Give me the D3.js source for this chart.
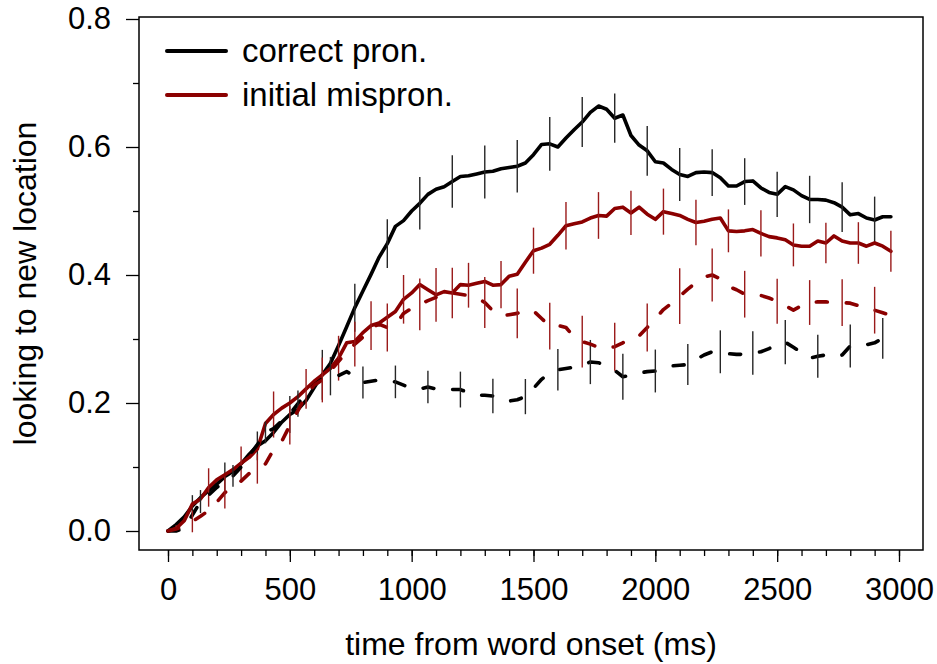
<!DOCTYPE html>
<meta charset="utf-8">
<style>
body { margin: 0; background: #fff; }
svg text { font-family: "Liberation Sans", Arial, sans-serif; fill: #000; }
.axis path.domain { display: none; }
.axis line { stroke: #000; stroke-width: 1.3px; }
</style>
<body>
<div class="g-chart"></div>
<script src="https://cdnjs.cloudflare.com/ajax/libs/d3/7.8.5/d3.min.js"></script>
<script>

// sample times (ms), one every 33.3 ms
var times = [0,33.3,66.7,100,133.3,166.7,200,233.3,266.7,300,333.3,366.7,400,433.3,466.7,500,
  533.3,566.7,600,633.3,666.7,700,733.3,766.7,800,833.3,866.7,900,933.3,966.7,1000,1033.3,1066.7,
  1100,1133.3,1166.7,1200,1233.3,1266.7,1300,1333.3,1366.7,1400,1433.3,1466.7,1500,1533.3,1566.7,
  1600,1633.3,1666.7,1700,1733.3,1766.7,1800,1833.3,1866.7,1900,1933.3,1966.7,2000,2033.3,2066.7,
  2100,2133.3,2166.7,2200,2233.3,2266.7,2300,2333.3,2366.7,2400,2433.3,2466.7,2500,2533.3,2566.7,
  2600,2633.3,2666.7,2700,2733.3,2766.7,2800,2833.3,2866.7,2900,2933.3,2966.7];

// correct pron., new object (solid black)
var correctSolid = [0,0.010,0.022,0.039,0.052,0.063,0.073,0.085,0.093,0.105,0.120,0.133,0.141,0.154,0.170,
  0.182,0.190,0.204,0.224,0.244,0.262,0.290,0.319,0.349,0.375,0.401,0.428,0.449,0.476,0.485,0.500,
  0.512,0.526,0.534,0.538,0.546,0.554,0.555,0.558,0.561,0.562,0.566,0.568,0.570,0.575,0.588,0.604,
  0.605,0.600,0.614,0.627,0.639,0.654,0.664,0.659,0.645,0.650,0.618,0.603,0.594,0.577,0.575,0.565,
  0.557,0.554,0.560,0.561,0.560,0.552,0.539,0.539,0.546,0.547,0.536,0.529,0.526,0.538,0.533,0.524,
  0.518,0.518,0.517,0.513,0.506,0.494,0.496,0.489,0.486,0.491,0.491];

// initial mispron., new object (solid red)
var mispronSolid = [0,0.004,0.016,0.042,0.050,0.068,0.080,0.088,0.096,0.106,0.115,0.128,0.168,0.182,0.192,
  0.200,0.210,0.222,0.234,0.244,0.254,0.270,0.294,0.296,0.310,0.321,0.325,0.334,0.343,0.362,0.372,
  0.385,0.377,0.369,0.374,0.372,0.385,0.384,0.387,0.390,0.384,0.385,0.398,0.401,0.420,0.438,0.442,
  0.448,0.462,0.477,0.480,0.483,0.489,0.493,0.492,0.504,0.506,0.497,0.506,0.495,0.487,0.499,0.496,
  0.493,0.487,0.482,0.484,0.487,0.489,0.469,0.468,0.469,0.471,0.465,0.460,0.458,0.455,0.447,0.445,
  0.445,0.453,0.450,0.461,0.453,0.450,0.450,0.445,0.450,0.445,0.437];

// correct pron., dashed black
var correctDashed = [0,0.000,0.004,0.025,0.046,0.056,0.068,0.078,0.086,0.100,0.118,0.135,0.154,0.160,0.172,
  0.183,0.199,0.214,0.228,0.238,0.242,0.243,0.249,0.242,0.232,0.234,0.236,0.235,0.233,0.228,0.223,
  0.222,0.225,0.222,0.220,0.221,0.221,0.216,0.212,0.212,0.211,0.205,0.203,0.205,0.210,0.223,0.237,
  0.247,0.252,0.254,0.256,0.259,0.264,0.263,0.258,0.251,0.241,0.243,0.247,0.249,0.250,0.254,0.258,
  0.259,0.260,0.268,0.275,0.280,0.280,0.277,0.276,0.276,0.278,0.280,0.285,0.292,0.295,0.287,0.279,
  0.270,0.273,0.275,0.272,0.275,0.289,0.291,0.291,0.294,0.301,0.308];

// initial mispron., dashed red
var mispronDashed = [0,0.003,0.008,0.015,0.023,0.032,0.045,0.060,0.067,0.078,0.090,0.097,0.105,0.127,0.140,
  0.165,0.188,0.212,0.228,0.236,0.250,0.265,0.280,0.292,0.303,0.318,0.323,0.318,0.322,0.340,0.348,
  0.354,0.360,0.365,0.371,0.372,0.370,0.368,0.365,0.357,0.344,0.336,0.338,0.340,0.345,0.344,0.332,
  0.320,0.321,0.318,0.303,0.296,0.292,0.287,0.285,0.288,0.294,0.303,0.305,0.318,0.332,0.346,0.356,
  0.367,0.378,0.388,0.397,0.400,0.394,0.382,0.377,0.370,0.369,0.368,0.364,0.359,0.352,0.345,0.352,
  0.357,0.358,0.358,0.357,0.357,0.356,0.352,0.347,0.345,0.341,0.337];

// half-lengths of the error bars; every 4th sample starting at the given index
var seCorrectSolid = [0.017,0.022,0.0225,0.029,0.039,0.0375,0.038,0.041,0.041,0.0415,0.041,0.042,
  0.039,0.0385,0.039,0.0415,0.0365,0.0365,0.0355,0.037,0.039,0.0365];
var seMispronSolid = [0.005,0.030,0.026,0.036,0.031,0.035,0.038,0.038,0.042,0.035,0.037,0.036,
  0.037,0.0365,0.0345,0.036,0.0355,0.0335,0.036,0.0335,0.0315,0.0325,0.032];
var seCorrectDashed = [0,0.018,0.017,0.017,0.0205,0.030,0.025,0.0255,0.0255,0.028,0.027,0.0275,
  0.0325,0.0345,0.036,0.0335,0.032,0.0335,0.034,0.0345,0.0335,0.0335,0.032];
var seMispronDashed = [0.017,0.025,0.023,0.030,0.035,0.035,0.0375,0.0405,0.0395,0.040,0.039,0.0365,
  0.0405,0.0375,0.0375,0.0435,0.0415,0.0365,0.035,0.035,0.0365,0.0365];
var barStart = {correctSolid: 3, mispronSolid: 1, correctDashed: 0, mispronDashed: 3};

var xMajor = [0,500,1000,1500,2000,2500,3000];
var xMinor = d3.range(0, 3001, 100);
var yMajor = [0,0.2,0.4,0.6,0.8];
var yMinor = [0.1,0.3,0.5,0.7];
var legendLabels = ["correct pron.", "initial mispron."];

var black = "#000000", red = "#8b0000";

var width = 937, height = 664;
var box = {left: 139, right: 923, top: 17, bottom: 550};

var x = d3.scaleLinear().domain([0, 3000]).range([168, 899]);
var y = d3.scaleLinear().domain([0, 0.8]).range([531, 19]);

var svg = d3.select(".g-chart").append("svg")
  .attr("width", width)
  .attr("height", height);

//plot box
svg.append("rect")
  .attr("x", box.left).attr("y", box.top)
  .attr("width", box.right - box.left).attr("height", box.bottom - box.top)
  .attr("fill", "none").attr("stroke", "#000").attr("stroke-width", 1.5);

//axes
svg.append("g").attr("class", "axis")
  .attr("transform", "translate(0," + box.bottom + ")")
  .call(d3.axisBottom(x).tickValues(xMinor).tickSize(6).tickFormat(""));
svg.append("g").attr("class", "axis")
  .attr("transform", "translate(0," + box.bottom + ")")
  .call(d3.axisBottom(x).tickValues(xMajor).tickSize(12).tickPadding(16).tickFormat(d3.format("d")))
  .selectAll("text").style("font-size", "31px");

svg.append("g").attr("class", "axis")
  .attr("transform", "translate(" + box.left + ",0)")
  .call(d3.axisLeft(y).tickValues(yMinor).tickSize(6).tickFormat(""));
svg.append("g").attr("class", "axis")
  .attr("transform", "translate(" + box.left + ",0)")
  .call(d3.axisLeft(y).tickValues(yMajor).tickSize(13).tickPadding(15).tickFormat(d3.format(".1f")))
  .selectAll("text").style("font-size", "31px");

//axis titles, centred on the plot box
svg.append("text")
  .attr("x", (box.left + box.right) / 2).attr("y", 655)
  .attr("text-anchor", "middle")
  .style("font-size", "32px")
  .text("time from word onset (ms)");

svg.append("text")
  .attr("transform", "translate(36," + (box.top + box.bottom) / 2 + ") rotate(-90)")
  .attr("text-anchor", "middle")
  .style("font-size", "32px")
  .text("looking to new location");

var series = [
  {key: "correctSolid", values: correctSolid, se: seCorrectSolid, color: black, bar: "#262626", dash: null},
  {key: "mispronSolid", values: mispronSolid, se: seMispronSolid, color: red, bar: "#9a1a1a", dash: null},
  {key: "correctDashed", values: correctDashed, se: seCorrectDashed, color: black, bar: "#262626", dash: "11,19"},
  {key: "mispronDashed", values: mispronDashed, se: seMispronDashed, color: red, bar: "#9a1a1a", dash: "11,19"}
];

var line = d3.line()
  .x(function(d, i) { return x(times[i]); })
  .y(function(d) { return y(d); });

series.forEach(function(s) {
  var g = svg.append("g").attr("class", s.key);

  g.append("path")
    .datum(s.values)
    .attr("d", line)
    .attr("fill", "none")
    .attr("stroke", s.color)
    .attr("stroke-width", 3.6)
    .attr("stroke-linejoin", "round")
    .attr("stroke-linecap", "round")
    .attr("stroke-dasharray", s.dash);

  var bars = s.se.map(function(e, k) {
    var i = barStart[s.key] + 4 * k;
    return {t: times[i], v: s.values[i], e: e};
  });

  g.selectAll("line.err")
    .data(bars)
    .enter().append("line")
    .attr("class", "err")
    .attr("x1", function(d) { return x(d.t); })
    .attr("x2", function(d) { return x(d.t); })
    .attr("y1", function(d) { return y(d.v - d.e); })
    .attr("y2", function(d) { return y(d.v + d.e); })
    .attr("stroke", s.bar)
    .attr("stroke-width", 1.4);
});

//legend
var legend = svg.append("g").attr("class", "legend");
legend.selectAll("line")
  .data(legendLabels)
  .enter().append("line")
  .attr("x1", 167).attr("x2", 226)
  .attr("y1", function(d, i) { return 51 + i * 44; })
  .attr("y2", function(d, i) { return 51 + i * 44; })
  .attr("stroke", function(d, i) { return i ? red : black; })
  .attr("stroke-width", 4)
  .attr("stroke-linecap", "round");
legend.selectAll("text")
  .data(legendLabels)
  .enter().append("text")
  .attr("x", 242)
  .attr("y", function(d, i) { return 62 + i * 44; })
  .style("font-size", "33px")
  .text(function(d) { return d; });

</script>
</body>
